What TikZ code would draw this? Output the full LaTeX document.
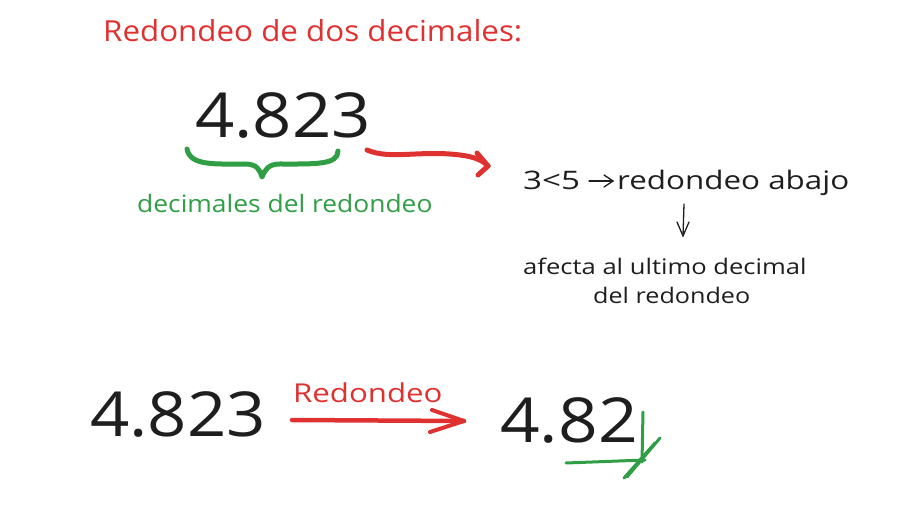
\documentclass[tikz,border=0pt]{standalone}
\usepackage{fontspec}
\setmainfont{Open Sans}
\usetikzlibrary{arrows.meta}
\definecolor{ink}{HTML}{1E1E1E}
\definecolor{xred}{HTML}{E03131}
\definecolor{xgreen}{HTML}{2F9E44}
\newcommand{\fsz}[2]{\fontsize{#1}{#1}\selectfont\addfontfeature{FakeStretch=#2}}
\tikzset{
  lbl/.style={inner sep=0pt, anchor=base west, text=ink},
  bignum/.style={lbl, font=\fsz{62}{1.11}},
  redpen/.style={draw=xred, line width=5pt, line cap=round, line join=round},
  greenpen/.style={draw=xgreen, line width=5pt, line cap=round, line join=round},
  thinpen/.style={draw=xgreen, line width=3pt, line cap=round},
  blackpen/.style={draw=ink, line width=1.3pt, line cap=round, line join=round}
}
\begin{document}
\begin{tikzpicture}[x=1pt,y=-1pt]
\useasboundingbox (0,0) rectangle (900,505);
% title
\node[lbl, text=xred, font=\fsz{29}{1.08}] (title) at (103,42) {Redondeo de dos decimales:};
% top number
\node[bignum] (num1) at (195,138) {4.823};
% brace
\path[greenpen] (187,149) .. controls (190,166) and (215,164) .. (245,164)
  .. controls (257,164) and (260,170) .. (262,177)
  .. controls (265,170) and (268,164) .. (280,164)
  .. controls (315,164) and (338,165) .. (338,151);
\node[lbl, text=xgreen, font=\fsz{24}{1.10}] (declbl) at (137,213) {decimales del redondeo};
% rule
\node[lbl, font=\fsz{25.5}{1.3}] (lt) at (523,190) {3<5};
\node[lbl, font=\fsz{25.5}{1.23}] (rule) at (617,190) {redondeo abajo};
\coordinate (r1) at (589,181);
\coordinate (r2) at (613,181);
\draw[blackpen] (r1) -- (r2);
\draw[blackpen] (r2) -- (604,175);
\draw[blackpen] (r2) -- (604,187);
\coordinate (c1) at (367,150);
\coordinate (c2) at (488,166);
\draw[redpen] (c1) .. controls (390,160) and (420,150) .. (460,155) .. controls (475,157) and (482,160) .. (c2);
\draw[redpen] (c2) -- (477,153);
\draw[redpen] (c2) -- (478,175);
\node[lbl, font=\fsz{21.5}{1.19}] (eff1) at (523,275) {afecta al ultimo decimal};
\node[lbl, font=\fsz{21.5}{1.17}] (eff2) at (593,304) {del redondeo};
\coordinate (d1) at (684,204);
\coordinate (d2) at (683,236);
\draw[blackpen] (d1) -- (d2);
\draw[blackpen] (d2) -- (677,222);
\draw[blackpen] (d2) -- (689,222);
% bottom
\node[bignum] (num2) at (90,436) {4.823};
\node[bignum, font=\fsz{62}{1.12}] (num3) at (500,442) {4.82};
\coordinate (a1) at (292,420);
\coordinate (a2) at (464,421);
\draw[redpen, line width=4.5pt] (a1) -- (a2);
\draw[redpen, line width=4pt] (a2) -- (432,410);
\draw[redpen, line width=4pt] (a2) -- (430,432);
\node[lbl, text=xred, font=\fsz{26}{1.2}] (rlbl) at (293,402) {Redondeo};
% green mark
\draw[thinpen] (566,463) -- (645,460);
\draw[thinpen] (643,412) -- (642,462);
\draw[thinpen] (660,438) -- (627,477);
\draw[thinpen] (655,443) -- (624,478);
\end{tikzpicture}
\end{document}
